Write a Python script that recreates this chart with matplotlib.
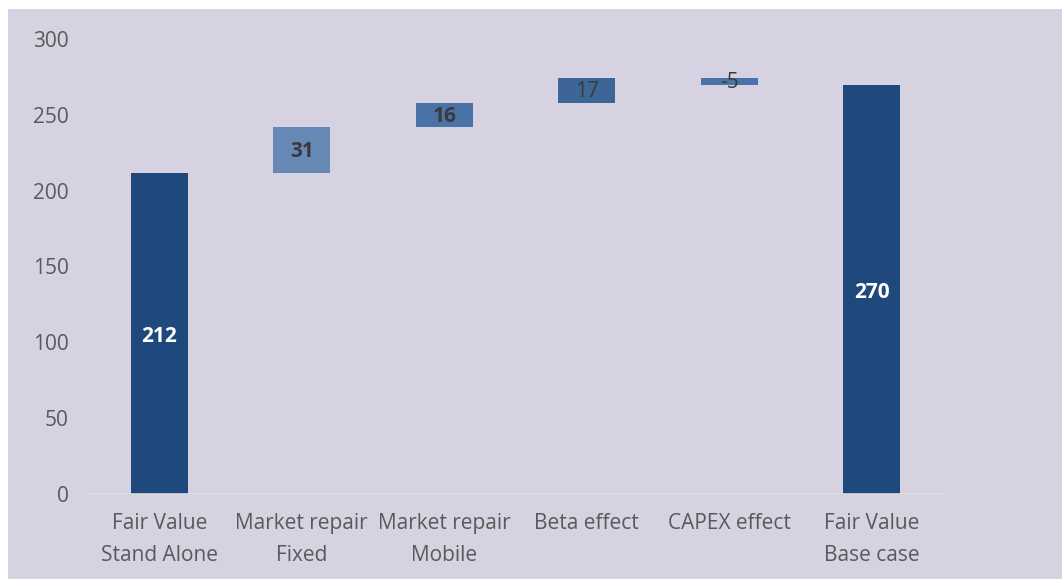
import matplotlib.pyplot as plt
from matplotlib.patches import Rectangle

# datos del grafico de cascada
categorias = ["Fair Value\nStand Alone", "Market repair\nFixed", "Market repair\nMobile",
              "Beta effect", "CAPEX effect", "Fair Value\nBase case"]
valor_inicial = 211.7
cambios = [30.6, 15.6, 16.6, -4.8]
valor_final = 269.7
colores = ["#1f497d", "#6689b5", "#4a72a6", "#3d6596", "#4a72a6", "#1f497d"]

plt.rcParams['font.family'] = ['Open Sans', 'DejaVu Sans']

fig = plt.figure(figsize=(10.62, 5.79), dpi=100)
fig.patch.set_facecolor("white")
fondo = Rectangle((8 / 1062, 0), 1, 1 - 9 / 579, transform=fig.transFigure,
                  facecolor="#d6d2e2", edgecolor="none", zorder=-10)
fig.add_artist(fondo)

ax = fig.add_axes([88 / 1062, 85 / 579, 855 / 1062, 455 / 579])
ax.set_facecolor("none")

# calcular bases y alturas
bases = [0]
alturas = [valor_inicial]
acumulado = valor_inicial
for c in cambios:
    if c >= 0:
        bases.append(acumulado)
        alturas.append(c)
    else:
        bases.append(acumulado + c)
        alturas.append(-c)
    acumulado += c
bases.append(0)
alturas.append(valor_final)

x = list(range(len(categorias)))
ax.bar(x, alturas, bottom=bases, width=0.4, color=colores, zorder=2)

etiquetas = [valor_inicial] + cambios + [valor_final]
for i, v in enumerate(etiquetas):
    yc = bases[i] + alturas[i] / 2
    if i == 0 or i == len(etiquetas) - 1:
        ax.text(i, yc - 2, f"{round(v)}", ha="center", va="center", color="white",
                fontsize=15, fontweight="bold", zorder=3)
    elif i in (1, 2):
        ax.text(i, yc - 1, f"{round(v)}", ha="center", va="center", color="#3a3a3a",
                fontsize=15, fontweight="bold", zorder=3)
    else:
        ax.text(i, yc - 1, f"{round(v)}", ha="center", va="center", color="#3a3a3a",
                fontsize=15, zorder=3)

ax.set_xlim(-0.5, 5.5)
ax.set_ylim(0, 300)
ax.set_yticks([0, 50, 100, 150, 200, 250, 300])
ax.set_xticks(x)
ax.set_xticklabels(categorias, linespacing=1.65)
ax.tick_params(axis="both", length=0, labelsize=15, labelcolor="#595959")
ax.tick_params(axis="y", pad=14)
ax.tick_params(axis="x", pad=14)
for s in ["top", "right", "left"]:
    ax.spines[s].set_visible(False)
ax.spines["bottom"].set_color("#dcdcdc")
ax.spines["bottom"].set_linewidth(1.2)

fig.savefig("out.png", dpi=100)
